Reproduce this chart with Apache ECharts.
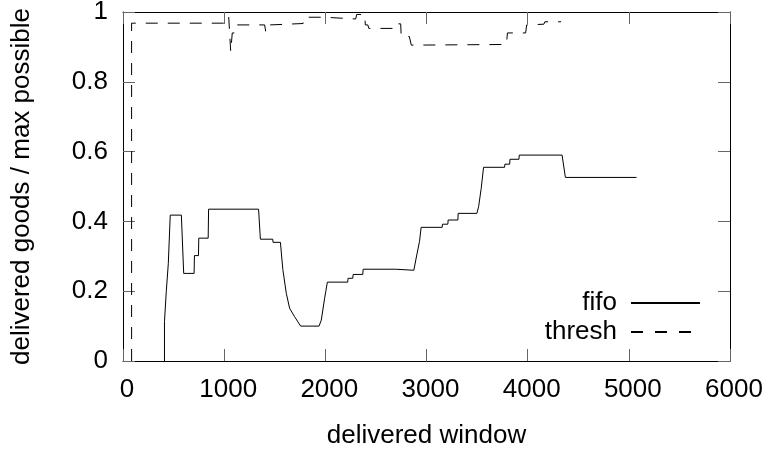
<!DOCTYPE html>
<html>
<head>
<meta charset="utf-8">
<script src="https://cdn.jsdelivr.net/npm/echarts@6/dist/echarts.min.js"></script>
<style>
html, body { margin: 0; padding: 0; background: #fff; }
#chart { width: 763px; height: 450px; }
</style>
</head>
<body>
<div id="chart"></div>
<script>
// values: [delivered window, delivered goods / max possible]
var fifoData = [
    [410, 0], [410, 0.113], [425, 0.113], [428, 0.2], [445, 0.2], [448, 0.28], [452, 0.28],
    [467, 0.418], [577, 0.418], [600, 0.251], [703, 0.251], [706, 0.302], [746, 0.302],
    [749, 0.352], [842, 0.352], [846, 0.435], [1340, 0.435], [1358, 0.349], [1480, 0.349],
    [1483, 0.34], [1556, 0.34], [1580, 0.262], [1614, 0.194], [1647, 0.151], [1696, 0.127],
    [1756, 0.1], [1938, 0.1], [1960, 0.117], [1993, 0.18], [2005, 0.2], [2020, 0.226],
    [2221, 0.226], [2225, 0.237], [2271, 0.237], [2275, 0.248], [2370, 0.248], [2374, 0.263],
    [2690, 0.263], [2693, 0.26], [2875, 0.26], [2898, 0.295], [2931, 0.343], [2947, 0.383],
    [3155, 0.383], [3158, 0.392], [3211, 0.392], [3214, 0.404], [3310, 0.404], [3313, 0.423],
    [3498, 0.423], [3515, 0.442], [3541, 0.495], [3564, 0.555], [3772, 0.555], [3775, 0.564],
    [3822, 0.564], [3825, 0.578], [3914, 0.578], [3917, 0.59], [4340, 0.59], [4373, 0.526],
    [5076, 0.526]
];
var threshData = [
    [85, 0], [85, 0.968], [1040, 0.968], [1045, 0.985], [1060, 0.985], [1065, 0.886],
    [1075, 0.886], [1080, 0.94], [1120, 0.94], [1130, 0.963], [1400, 0.963], [1410, 0.945],
    [1450, 0.945], [1455, 0.963], [1780, 0.967], [1790, 0.985], [1990, 0.985], [2000, 0.98],
    [2300, 0.98], [2310, 0.993], [2390, 0.993], [2395, 0.963], [2420, 0.963], [2430, 0.953],
    [2715, 0.953], [2720, 0.966], [2745, 0.966], [2750, 0.93], [2830, 0.93], [2850, 0.905],
    [3790, 0.907], [3800, 0.94], [3980, 0.94], [3990, 0.963], [4160, 0.965], [4170, 0.972],
    [4330, 0.972]
];
var seriesNames = ["fifo", "thresh"];
var xTicks = { min: 0, max: 6000, interval: 1000 };
var yTicks = { min: 0, max: 1, interval: 0.2 };

var font = "Liberation Sans";
var fontSize = 26;

function plain(v) {
    return String(v);
}

function axisX(pos, labels) {
    return {
        type: "value", position: pos, min: xTicks.min, max: xTicks.max, interval: xTicks.interval,
        name: labels ? "delivered window" : "", nameLocation: "middle", nameGap: 62,
        nameTextStyle: { fontFamily: font, fontSize: fontSize, color: "#000" },
        axisLine: { show: true, onZero: false, lineStyle: { color: "#000", width: 1 } },
        axisTick: { show: true, inside: true, length: 12, lineStyle: { color: "#666", width: 1 } },
        axisLabel: {
            show: labels, margin: 16, formatter: plain, padding: [0, 0, 0, 8],
            fontFamily: font, fontSize: fontSize, color: "#000"
        },
        splitLine: { show: false }
    };
}
function axisY(pos, labels) {
    return {
        type: "value", position: pos, min: yTicks.min, max: yTicks.max, interval: yTicks.interval,
        name: labels ? "delivered goods / max possible" : "", nameLocation: "middle", nameGap: 88,
        nameTextStyle: { fontFamily: font, fontSize: fontSize, color: "#000" },
        axisLine: { show: true, onZero: false, lineStyle: { color: "#000", width: 1 } },
        axisTick: { show: true, inside: true, length: 12, lineStyle: { color: "#666", width: 1 } },
        axisLabel: { show: labels, margin: 15, formatter: plain, fontFamily: font, fontSize: fontSize, color: "#000" },
        splitLine: { show: false }
    };
}

var chart = echarts.init(document.getElementById("chart"), null, { renderer: "canvas" });
var option = {
    animation: false,
    backgroundColor: "#fff",
    grid: { left: 123, right: 33, top: 12, bottom: 89, containLabel: false, outerBoundsMode: "none" },
    xAxis: [axisX("bottom", true), axisX("top", false)],
    yAxis: [axisY("left", true), axisY("right", false)],
    legend: {
        data: [
            { name: seriesNames[0] },
            { name: seriesNames[1], lineStyle: { type: [12, 12] } }
        ],
        orient: "vertical",
        align: "right",
        right: 57,
        top: 285,
        itemWidth: 69,
        itemHeight: 25,
        itemGap: 3,
        itemStyle: { color: "rgba(0,0,0,0)", opacity: 0, borderWidth: 0 },
        textStyle: { fontFamily: font, fontSize: fontSize, color: "#000", padding: [0, 9, 0, 0] }
    },
    series: [
        {
            name: seriesNames[0], type: "line", data: fifoData, showSymbol: false, symbol: "none",
            lineStyle: { color: "#000", width: 1 }, itemStyle: { color: "#000" }
        },
        {
            name: seriesNames[1], type: "line", data: threshData, showSymbol: false, symbol: "none",
            lineStyle: { color: "#000", width: 1, type: [12, 10] }, itemStyle: { color: "#000" }
        }
    ]
};
chart.setOption(option);
</script>
</body>
</html>
